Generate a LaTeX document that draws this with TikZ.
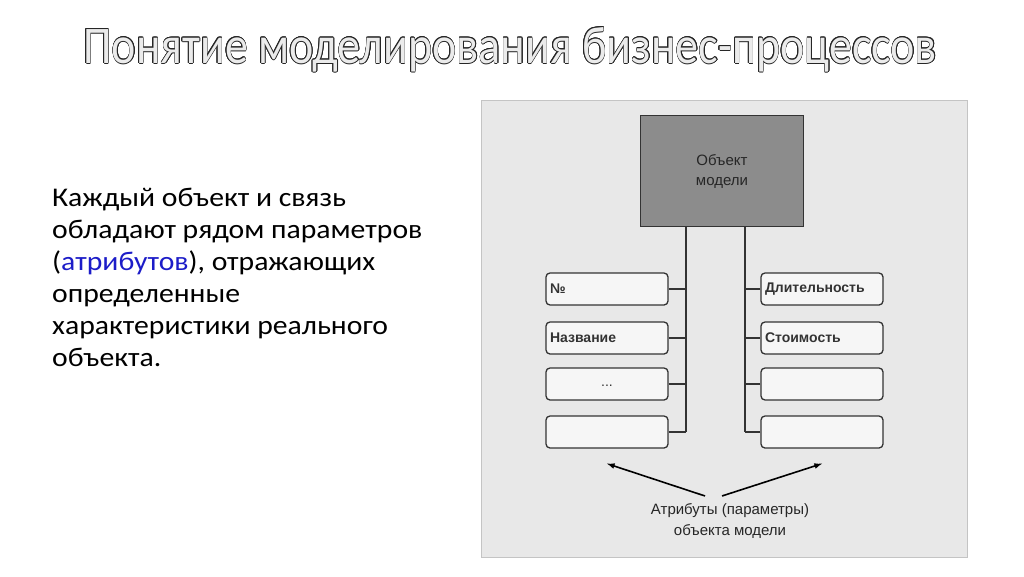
\documentclass[tikz,border=0pt]{standalone}
\usepackage{fontspec}
\setmainfont{Carlito}
\newfontfamily\diagfont{Liberation Sans}
\usepackage{contour}
\contourlength{0.6pt}
\usetikzlibrary{positioning}
\definecolor{panelgray}{HTML}{E8E8E8}
\definecolor{panelline}{HTML}{C4C4C4}
\definecolor{objgray}{HTML}{8C8C8C}
\definecolor{boxline}{HTML}{333333}
\definecolor{attrblue}{HTML}{1C1CC8}
\newcommand{\boxfont}{\diagfont\bfseries\fontsize{14}{16}\selectfont}

\tikzset{
  attrbox/.style={draw=boxline, line width=1.3pt, rounded corners=4pt, fill=white!60!panelgray,
    minimum width=122pt, minimum height=32pt, text width=114pt, align=left,
    inner xsep=4pt, font=\boxfont, text=black!80},
  bus/.style={draw=boxline, line width=1.3pt},
  pointer/.style={-latex, line width=1.6pt, black},
}

\begin{document}
\begin{tikzpicture}[x=1pt, y=-1pt]
  \useasboundingbox (0,0) rectangle (1024,576);
  \fill[white] (0,0) rectangle (1024,576);

  % title and text
  \node (title) at (510,50) {\scalebox{1}[1.15]{\fontsize{46}{52}\selectfont\contour{black!85}{\textcolor{white!92!black}{Понятие моделирования бизнес-процессов}}}};
  \node[anchor=north west, align=left, font=\fontsize{27}{32}\selectfont, inner sep=0pt] (body) at (52,184)
    {\scalebox{1.1}[1]{\begin{tabular}{@{}l@{}}Каждый объект и связь\\обладают рядом параметров\\(\textcolor{attrblue}{атрибутов}), отражающих\\определенные\\характеристики реального\\объекта.\end{tabular}}};

  % panel
  \draw[panelline, fill=panelgray] (481,100) rectangle (967,557);
  \node[draw=boxline, line width=1.6pt, fill=objgray, minimum width=163pt, minimum height=111pt,
    align=center, font=\diagfont\fontsize{15}{20}\selectfont, text=black!85] (obj) at (722,171) {Объект\\модели};

  \coordinate (lbus) at (686,432);
  \coordinate (rbus) at (745,432);
  \draw[bus] (obj.south -| lbus) -- (lbus);
  \draw[bus] (obj.south -| rbus) -- (rbus);

  \foreach \i/\y/\ltxt/\rtxt in {1/289/{№}/{Длительность}, 2/338/{Название}/{Стоимость},
                                 3/384/{\makebox[114pt]{\mdseries\raisebox{-4pt}{...}}}/{}, 4/432/{}/{}} {
    \node[attrbox] (l\i) at (607,\y) {\ltxt};
    \node[attrbox] (r\i) at (822,\y) {\rtxt};
    \draw[bus] (l\i.east) -- (l\i.east -| lbus);
    \draw[bus] (r\i.west) -- (r\i.west -| rbus);
  }

  \node[align=center, font=\diagfont\fontsize{15}{21}\selectfont, text=black!85] (attrs) at (730,521)
    {Атрибуты (параметры)\\объекта модели};
  \draw[pointer] ([xshift=-25pt,yshift=4pt]attrs.north) -- ([yshift=-15pt]l4.south);
  \draw[pointer] ([xshift=-8pt,yshift=4pt]attrs.north) -- ([yshift=-15pt]r4.south);
\end{tikzpicture}
\end{document}
